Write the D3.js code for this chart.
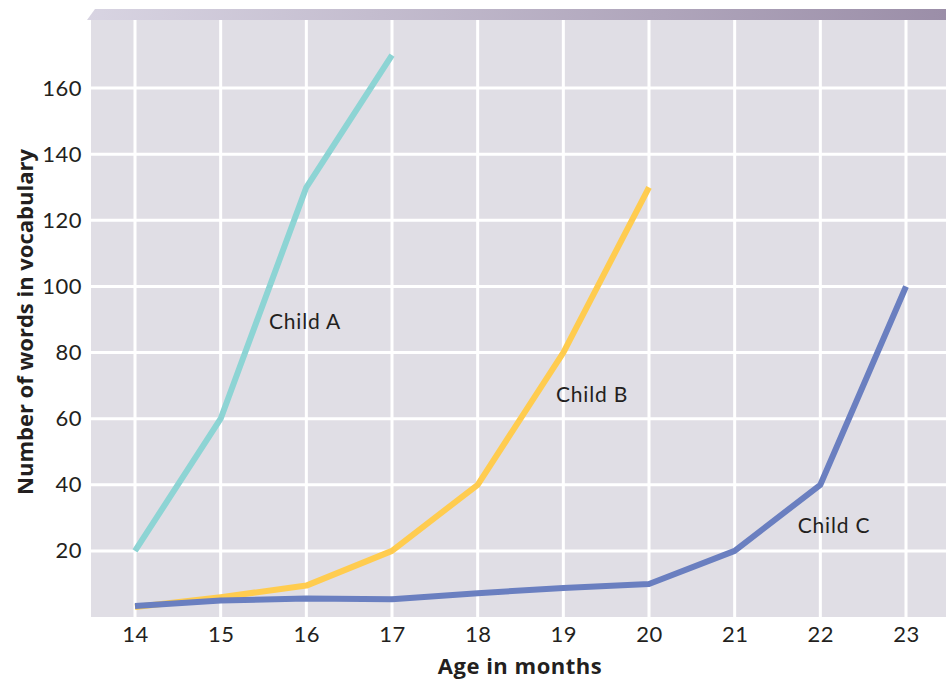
<!DOCTYPE html>
<html>
<head>
<meta charset="utf-8">
<script src="https://cdn.jsdelivr.net/npm/d3@7"></script>
<style>
  html, body { margin: 0; padding: 0; background: #ffffff; }
  svg { display: block; }
  text { font-family: Lato, "Open Sans", sans-serif; fill: #231f20; }
</style>
</head>
<body>
<svg id="chart" width="946" height="680"></svg>
<script>
// Vocabulary growth by age for three children
const months = [14, 15, 16, 17, 18, 19, 20, 21, 22, 23];
const yTicks = [20, 40, 60, 80, 100, 120, 140, 160];

const childA = [
  { m: 14, v: 20 }, { m: 15, v: 60 }, { m: 16, v: 130 }, { m: 17, v: 170 }
];
const childB = [
  { m: 14, v: 3 }, { m: 15, v: 6 }, { m: 16, v: 9.5 }, { m: 17, v: 20 },
  { m: 18, v: 40 }, { m: 19, v: 80 }, { m: 20, v: 130 }
];
const childC = [
  { m: 14, v: 3.3 }, { m: 15, v: 5 }, { m: 16, v: 5.6 }, { m: 17, v: 5.4 },
  { m: 18, v: 7.2 }, { m: 19, v: 8.8 }, { m: 20, v: 10 }, { m: 21, v: 20 },
  { m: 22, v: 40 }, { m: 23, v: 100 }
];

const series = [
  { name: "Child A", data: childA, color: "#8dd4d4", label: [305, 324] },
  { name: "Child B", data: childB, color: "#ffcc4f", label: [592, 397] },
  { name: "Child C", data: childC, color: "#6a7fc0", label: [834, 528] }
];

const svg = d3.select("#chart");
const plotLeft = 91, plotRight = 946, plotTop = 20, plotBottom = 617;

const x = d3.scaleLinear().domain([14, 23]).range([135, 906]);
const y = d3.scaleLinear().domain([0, 180]).range([plotBottom, plotTop + 2]);

// Header band with a gradient
const defs = svg.append("defs");
const grad = defs.append("linearGradient").attr("id", "band").attr("x1", "0").attr("x2", "1");
grad.append("stop").attr("offset", "0").attr("stop-color", "#d8d4e2");
grad.append("stop").attr("offset", "1").attr("stop-color", "#9b8ea8");
svg.append("path")
  .attr("d", `M${plotLeft - 4},${plotTop} L${plotLeft + 4},9 L${plotRight},9 L${plotRight},${plotTop} Z`)
  .attr("fill", "url(#band)");

// Plot background
svg.append("rect")
  .attr("x", plotLeft).attr("y", plotTop)
  .attr("width", plotRight - plotLeft).attr("height", plotBottom - plotTop)
  .attr("fill", "#e0dee5");

// Grid lines
svg.append("g")
  .selectAll("line")
  .data(months)
  .join("line")
  .attr("x1", d => x(d)).attr("x2", d => x(d))
  .attr("y1", plotTop).attr("y2", plotBottom)
  .attr("stroke", "#ffffff").attr("stroke-width", 3);

svg.append("g")
  .selectAll("line")
  .data(yTicks)
  .join("line")
  .attr("x1", plotLeft).attr("x2", plotRight)
  .attr("y1", d => y(d)).attr("y2", d => y(d))
  .attr("stroke", "#ffffff").attr("stroke-width", 3);

// Axes (labels only)
const xAxis = svg.append("g")
  .attr("transform", `translate(0,${plotBottom})`)
  .call(d3.axisBottom(x).tickValues(months).tickSize(0).tickPadding(9));
const yAxis = svg.append("g")
  .attr("transform", `translate(${plotLeft},0)`)
  .call(d3.axisLeft(y).tickValues(yTicks).tickSize(0).tickPadding(9));
[xAxis, yAxis].forEach(g => {
  g.select(".domain").remove();
  g.selectAll("text")
    .style("font-family", "Lato, 'Open Sans', sans-serif")
    .style("font-size", "22px")
    .style("letter-spacing", "0.5px")
    .attr("fill", "#231f20");
});

// Lines
const line = d3.line().x(d => x(d.m)).y(d => y(d.v));
svg.append("g")
  .selectAll("path")
  .data(series)
  .join("path")
  .attr("d", d => line(d.data))
  .attr("fill", "none")
  .attr("stroke", d => d.color)
  .attr("stroke-width", 6)
  .attr("stroke-linejoin", "round")
  .attr("stroke-linecap", "butt");

// Series labels
svg.append("g")
  .selectAll("text")
  .data(series)
  .join("text")
  .attr("x", d => d.label[0]).attr("y", d => d.label[1])
  .attr("text-anchor", "middle")
  .attr("dominant-baseline", "middle")
  .style("font-size", "21px")
  .style("letter-spacing", "0.8px")
  .text(d => d.name);

// Axis titles
svg.append("text")
  .attr("x", 520).attr("y", 674)
  .attr("text-anchor", "middle")
  .style("font-family", "'Open Sans', sans-serif")
  .style("font-size", "22px").style("font-weight", "bold")
  .style("letter-spacing", "0.5px")
  .text("Age in months");

svg.append("text")
  .attr("transform", "translate(33,322) rotate(-90)")
  .attr("text-anchor", "middle")
  .style("font-family", "'Open Sans', sans-serif")
  .style("font-size", "22px").style("font-weight", "bold")
  .text("Number of words in vocabulary");
</script>
</body>
</html>
